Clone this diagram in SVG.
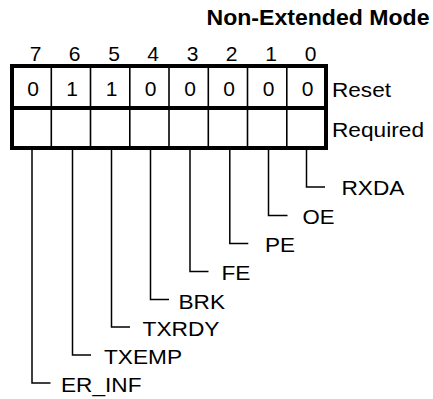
<svg xmlns="http://www.w3.org/2000/svg" width="433" height="399" viewBox="0 0 433 399">
<style>
text{font-family:"Liberation Sans",Arial,sans-serif;font-size:21px;fill:#000}
.title{font-weight:bold;font-size:22px}
.mid{text-anchor:middle}
.thick{fill:none;stroke:#000;stroke-width:4}
.thin{fill:none;stroke:#000;stroke-width:1.6}
.lead{fill:none;stroke:#000;stroke-width:1.5}
</style>
<rect width="433" height="399" fill="#fff"/>
<g id="title"><text class="title" x="206.5" y="24.5" textLength="223" lengthAdjust="spacingAndGlyphs">Non-Extended Mode</text></g>
<g id="register">
  <g id="bit-numbers">
    <text class="mid" x="35.5" y="60.5">7</text>
    <text class="mid" x="74.5" y="60.5">6</text>
    <text class="mid" x="114" y="60.5">5</text>
    <text class="mid" x="153" y="60.5">4</text>
    <text class="mid" x="192.5" y="60.5">3</text>
    <text class="mid" x="231.5" y="60.5">2</text>
    <text class="mid" x="271" y="60.5">1</text>
    <text class="mid" x="310.5" y="60.5">0</text>
  </g>
  <g id="dividers">
    <line class="thin" x1="51.3" y1="66" x2="51.3" y2="148"/>
    <line class="thin" x1="90.5" y1="66" x2="90.5" y2="148"/>
    <line class="thin" x1="129.8" y1="66" x2="129.8" y2="148"/>
    <line class="thin" x1="169" y1="66" x2="169" y2="148"/>
    <line class="thin" x1="208.3" y1="66" x2="208.3" y2="148"/>
    <line class="thin" x1="247.5" y1="66" x2="247.5" y2="148"/>
    <line class="thin" x1="286.8" y1="66" x2="286.8" y2="148"/>
  </g>
  <rect class="thick" x="12" y="66" width="314" height="82"/>
  <line class="thick" x1="12" y1="108" x2="326" y2="108"/>
  <g id="reset-values">
    <text class="mid" x="33" y="96">0</text>
    <text class="mid" x="72" y="96">1</text>
    <text class="mid" x="111.5" y="96">1</text>
    <text class="mid" x="150.5" y="96">0</text>
    <text class="mid" x="190" y="96">0</text>
    <text class="mid" x="229" y="96">0</text>
    <text class="mid" x="268.5" y="96">0</text>
    <text class="mid" x="307.5" y="96">0</text>
  </g>
  <text x="332" y="96.5" textLength="59" lengthAdjust="spacingAndGlyphs">Reset</text>
  <text x="332" y="136.5" textLength="92" lengthAdjust="spacingAndGlyphs">Required</text>
</g>
<g id="connectors">
  <polyline class="lead" points="306.5,148 306.5,187 325,187"/>
  <polyline class="lead" points="268.5,148 268.5,215.5 287.5,215.5"/>
  <polyline class="lead" points="229.8,148 229.8,243.5 248.3,243.5"/>
  <polyline class="lead" points="190,148 190,271.5 208.5,271.5"/>
  <polyline class="lead" points="150.5,148 150.5,299.5 169,299.5"/>
  <polyline class="lead" points="111.5,148 111.5,327 130,327"/>
  <polyline class="lead" points="72.5,148 72.5,355 91,355"/>
  <polyline class="lead" points="32,148 32,383 50.5,383"/>
</g>
<g id="RXDA"><text x="341.5" y="195" textLength="63" lengthAdjust="spacingAndGlyphs">RXDA</text></g>
<g id="OE"><text x="302.5" y="223.5" textLength="32" lengthAdjust="spacingAndGlyphs">OE</text></g>
<g id="PE"><text x="265" y="251.5" textLength="30" lengthAdjust="spacingAndGlyphs">PE</text></g>
<g id="FE"><text x="221.5" y="280" textLength="29" lengthAdjust="spacingAndGlyphs">FE</text></g>
<g id="BRK"><text x="178.5" y="308.5" textLength="46.5" lengthAdjust="spacingAndGlyphs">BRK</text></g>
<g id="TXRDY"><text x="142.5" y="336" textLength="77" lengthAdjust="spacingAndGlyphs">TXRDY</text></g>
<g id="TXEMP"><text x="104" y="364" textLength="78" lengthAdjust="spacingAndGlyphs">TXEMP</text></g>
<g id="ER_INF"><text x="61" y="392" textLength="80.5" lengthAdjust="spacingAndGlyphs">ER_INF</text></g>
</svg>
